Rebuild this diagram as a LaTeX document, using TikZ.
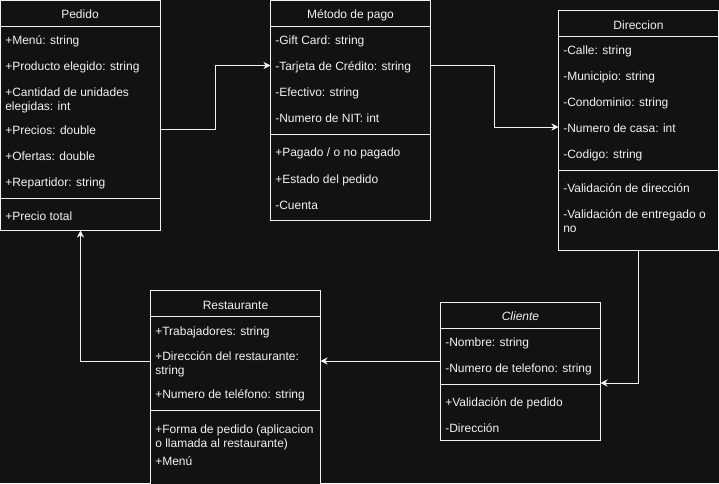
\documentclass[tikz,border=0pt]{standalone}
\usepackage{fontspec}
\setmainfont{Liberation Sans}
\usetikzlibrary{arrows.meta,calc}
\definecolor{bg}{HTML}{121212}
\definecolor{fg}{HTML}{F2F2F2}
\begin{document}
\begin{tikzpicture}[x=0.75pt,y=-0.75pt,
  cls/.style={draw=fg, fill=bg, line width=0.75pt, anchor=north west, inner sep=0pt, outer sep=0pt},
  sep/.style={draw=fg, line width=0.75pt},
  item/.style={anchor=base west, inner sep=0pt, yshift=-0.75pt, text=fg, font=\fontsize{9}{10.5}\selectfont},
  ttl/.style={anchor=base, inner sep=0pt, yshift=-0.75pt, text=fg, font=\fontsize{9}{10.5}\selectfont},
  arr/.style={draw=fg, line width=0.75pt, -{Stealth[length=5.25pt,width=5.25pt,inset=1.6pt]}}]
\fill[bg] (0,0) rectangle (719,483);
\useasboundingbox (0,0) rectangle (719,483);
\clip (0,0) rectangle (719,483);

% ---------- Pedido ----------
\node[cls, minimum width=120pt, minimum height=172.5pt] (pedido) at (0.5,0.5) {};
\draw[sep] ($(pedido.north west)+(0,26)$) -- ($(pedido.north east)+(0,26)$);
\draw[sep] ($(pedido.north west)+(0,198)$) -- ($(pedido.north east)+(0,198)$);
\node[ttl] (pedidoT) at (80,17.6) {Pedido};
\node[item] (pe1) at (5,43.3) {+Menú: string};
\node[item] (pe2) at (5,69.3) {+Producto elegido: string};
\node[item] (pe3) at (5,95.8) {+Cantidad de unidades};
\node[item] (pe3b) at (5,109.8) {elegidas: int};
\node[item] (pe4) at (5,133.6) {+Precios: double};
\node[item] (pe5) at (5,159.6) {+Ofertas: double};
\node[item] (pe6) at (5,185.6) {+Repartidor: string};
\node[item] (pe7) at (5,219.3) {+Precio total};

% ---------- Metodo de pago ----------
\node[cls, minimum width=120pt, minimum height=165pt] (metodo) at (270.5,0.5) {};
\draw[sep] ($(metodo.north west)+(0,26)$) -- ($(metodo.north east)+(0,26)$);
\draw[sep] ($(metodo.north west)+(0,134)$) -- ($(metodo.north east)+(0,134)$);
\node[ttl] (metodoT) at (350.5,17.6) {Método de pago};
\node[item] (me1) at (275,43.6) {-Gift Card: string};
\node[item] (me2) at (275,69.6) {-Tarjeta de Crédito: string};
\node[item] (me3) at (275,95.6) {-Efectivo: string};
\node[item] (me4) at (275,121.6) {-Numero de NIT: int};
\node[item] (me5) at (275,155.3) {+Pagado / o no pagado};
\node[item] (me6) at (275,182.3) {+Estado del pedido};
\node[item] (me7) at (275,208.6) {-Cuenta};

% ---------- Direccion ----------
\node[cls, minimum width=120pt, minimum height=180pt] (direccion) at (558.5,10.5) {};
\draw[sep] ($(direccion.north west)+(0,26)$) -- ($(direccion.north east)+(0,26)$);
\draw[sep] ($(direccion.north west)+(0,160)$) -- ($(direccion.north east)+(0,160)$);
\node[ttl] (direccionT) at (638.5,28.6) {Direccion};
\node[item] (di1) at (563,53.6) {-Calle: string};
\node[item] (di2) at (563,79.6) {-Municipio: string};
\node[item] (di3) at (563,105.6) {-Condominio: string};
\node[item] (di4) at (563,131.6) {-Numero de casa: int};
\node[item] (di5) at (563,157.6) {-Codigo: string};
\node[item] (di6) at (563,191.3) {-Validación de dirección};
\node[item] (di7) at (563,217.3) {-Validación de entregado o};
\node[item] (di7b) at (563,231.3) {no};

% ---------- Restaurante ----------
\node[cls, minimum width=127.5pt, minimum height=150pt] (restaurante) at (150.5,290.5) {};
\draw[sep] ($(restaurante.north west)+(0,26)$) -- ($(restaurante.north east)+(0,26)$);
\draw[sep] ($(restaurante.north west)+(0,120)$) -- ($(restaurante.north east)+(0,120)$);
\node[ttl] (restauranteT) at (235.5,308.6) {Restaurante};
\node[item] (re1) at (155,334) {+Trabajadores: string};
\node[item] (re2) at (155,359.6) {+Dirección del restaurante:};
\node[item] (re2b) at (155,373.6) {string};
\node[item] (re3) at (155,397.3) {+Numero de teléfono: string};
\node[item] (re4) at (155,432) {+Forma de pedido (aplicacion};
\node[item] (re4b) at (155,446) {o llamada al restaurante)};
\node[item] (re5) at (155,464) {+Menú};

% ---------- Cliente ----------
\node[cls, minimum width=120pt, minimum height=103.5pt] (cliente) at (440.5,302.5) {};
\draw[sep] ($(cliente.north west)+(0,26)$) -- ($(cliente.north east)+(0,26)$);
\draw[sep] ($(cliente.north west)+(0,82)$) -- ($(cliente.north east)+(0,82)$);
\node[ttl, font=\fontsize{9}{10.5}\selectfont\itshape] (clienteT) at (520.5,319.6) {Cliente};
\node[item] (cl1) at (445,345.3) {-Nombre: string};
\node[item] (cl2) at (445,371.3) {-Numero de telefono: string};
\node[item] (cl3) at (445,405.3) {+Validación de pedido};
\node[item] (cl4) at (445,431.3) {-Dirección};

% ---------- Connectors ----------
\draw[arr] ($(pedido.north east)+(0,128.5)$) -- ++(54.5,0) |- ($(metodo.north west)+(0,65)$);
\draw[arr] ($(metodo.north east)+(0,65)$) -- ++(63.5,0) |- ($(direccion.north west)+(0,116.5)$);
\draw[arr] (direccion.south) |- ($(cliente.north east)+(0,80.5)$);
\draw[arr] ($(cliente.north west)+(0,58.5)$) -- ($(restaurante.north east)+(0,70.5)$);
\draw[arr] ($(restaurante.north west)+(0,70.5)$) -| (pedido.south);
\end{tikzpicture}
\end{document}
